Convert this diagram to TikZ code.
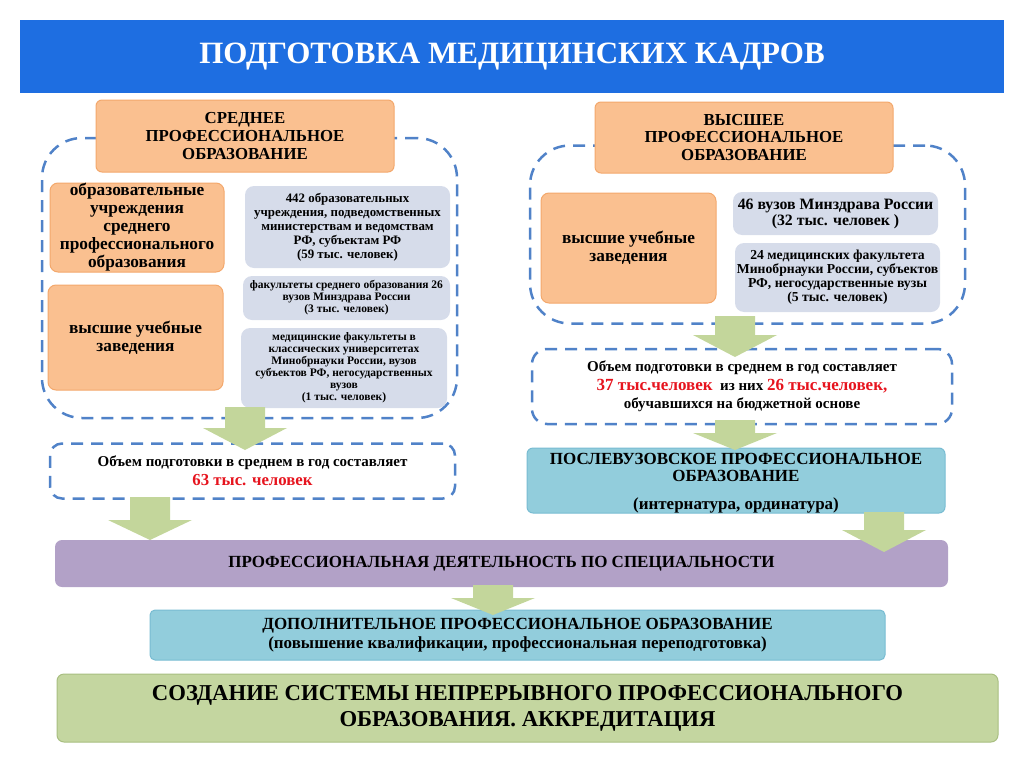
\documentclass[tikz,border=0pt]{standalone}
\usepackage{fontspec}
\setmainfont{Liberation Serif}
\usetikzlibrary{positioning}

\definecolor{titleblue}{RGB}{30,110,225}
\definecolor{orangefill}{RGB}{250,192,144}
\definecolor{orangeline}{RGB}{243,168,108}
\definecolor{grayfill}{RGB}{214,220,234}
\definecolor{frameblue}{RGB}{80,130,200}
\definecolor{arrowgreen}{RGB}{195,214,155}
\definecolor{purplefill}{RGB}{178,161,199}
\definecolor{cyanfill}{RGB}{146,205,220}
\definecolor{cyanline}{RGB}{120,188,210}
\definecolor{greenfill}{RGB}{196,214,160}
\definecolor{greenline}{RGB}{168,190,128}
\definecolor{redtext}{RGB}{230,20,30}

% block arrow: centre x, top, neck, tip
\newcommand{\greenarrow}[4]{%
  \fill[arrowgreen] (#1-20,#2) -- (#1+20,#2) -- (#1+20,#3) -- (#1+42,#3)
    -- (#1,#4) -- (#1-42,#3) -- (#1-20,#3) -- cycle;}

\begin{document}
\begin{tikzpicture}[x=1pt, y=-1pt,
        box/.style={align=center, inner sep=0pt, outer sep=0pt},
        headbox/.style={box, draw=orangeline, line width=1pt, fill=orangefill, rounded corners=6pt, minimum width=298pt, minimum height=72pt, font=\bfseries\fontsize{16.8}{17.8}\selectfont},
        orangebox/.style={box, draw=orangeline, line width=1pt, fill=orangefill, rounded corners=8pt, minimum width=175pt, font=\bfseries\fontsize{17.3}{18}\selectfont},
        graybox/.style={box, fill=grayfill, rounded corners=9pt, minimum width=206pt},
        frame/.style={box, draw=frameblue, line width=2.5pt, dash pattern=on 12pt off 8pt},
        wide/.style={box, line width=1pt, font=\bfseries\fontsize{17}{19}\selectfont}]

    \useasboundingbox (0,0) rectangle (1024,768);

    % title
    \node [box, fill=titleblue, minimum width=984pt, minimum height=73pt, text=white, font=\bfseries\fontsize{31}{34}\selectfont] (title) at (512,56.5) {ПОДГОТОВКА МЕДИЦИНСКИХ КАДРОВ};

    % dashed frames
    \node [frame, rounded corners=40pt, minimum width=415pt, minimum height=280pt] (spoframe) at (249.5,278) {};
    \node [frame, rounded corners=40pt, minimum width=435pt, minimum height=178pt] (voframe) at (747.5,234.5) {};

    % left part
    \node [headbox] (spohead) at (245,136) {СРЕДНЕЕ\\ПРОФЕССИОНАЛЬНОЕ\\ОБРАЗОВАНИЕ};
    \node [orangebox, minimum width=174pt, minimum height=89pt] (spoorg) at (137,227.5) {образовательные\\учреждения\\среднего\\профессионального\\образования};
    \node [orangebox, minimum height=105pt] (spovuz) at (135.5,337.5) {высшие учебные\\заведения};
    \node [graybox, minimum width=205pt, minimum height=82pt, font=\bfseries\fontsize{12.9}{14}\selectfont] (spog1) at (347.5,227) {442 образовательных\\учреждения, подведомственных\\министерствам и ведомствам\\РФ, субъектам РФ\\(59 тыс. человек)};
    \node [graybox, minimum width=207pt, minimum height=44pt, font=\bfseries\fontsize{11.5}{12}\selectfont] (spog2) at (346.5,298) {факультеты среднего образования 26\\вузов Минздрава России\\(3 тыс. человек)};
    \node [graybox, minimum height=80pt, font=\bfseries\fontsize{11.5}{12}\selectfont] (spog3) at (344,368) {медицинские факультеты в\\классических университетах\\Минобрнауки России, вузов\\субъектов РФ, негосударственных\\вузов\\(1 тыс. человек)};
    \node [frame, rounded corners=12pt, minimum width=405pt, minimum height=55pt, font=\bfseries\fontsize{15}{19}\selectfont] (spovol) at (252.5,471) {Объем подготовки в среднем в год составляет\\{\color{redtext}\fontsize{16.8}{19}\selectfont 63 тыс. человек}};

    % right part
    \node [headbox, minimum height=71pt] (vohead) at (744,137.5) {ВЫСШЕЕ\\ПРОФЕССИОНАЛЬНОЕ\\ОБРАЗОВАНИЕ};
    \node [orangebox, minimum height=110pt] (vovuz) at (628.5,248) {высшие учебные\\заведения};
    \node [graybox, minimum width=205pt, minimum height=43pt, font=\bfseries\fontsize{15.8}{16}\selectfont] (vog1) at (835.5,213.5) {46 вузов Минздрава России\\(32 тыс. человек )};
    \node [graybox, minimum width=205pt, minimum height=69pt, font=\bfseries\fontsize{13.7}{14}\selectfont] (vog2) at (837.5,277.5) {24 медицинских факультета\\Минобрнауки России, субъектов\\РФ, негосударственные вузы\\(5 тыс. человек)};
    \node [frame, rounded corners=15pt, minimum width=420pt, minimum height=75pt, font=\bfseries\fontsize{15}{18.5}\selectfont] (vovol) at (742,386.5) {Объем подготовки в среднем в год составляет\\{\color{redtext}\fontsize{17}{18.5}\selectfont 37 тыс.человек}\ \ из них {\color{redtext}\fontsize{17}{18.5}\selectfont 26 тыс.человек,}\\обучавшихся на бюджетной основе};
    \node [wide, draw=cyanline, fill=cyanfill, rounded corners=6pt, minimum width=418pt, minimum height=65pt] (post) at (736,480.5) {};
    \node [box, font=\bfseries\fontsize{17}{17}\selectfont] (posttext) at (736,483) {ПОСЛЕВУЗОВСКОЕ ПРОФЕССИОНАЛЬНОЕ\\ОБРАЗОВАНИЕ\\[11pt](интернатура, ординатура)};

    % lower part
    \node [wide, fill=purplefill, rounded corners=7pt, minimum width=893pt, minimum height=47pt] (prof) at (501.5,563.5) {ПРОФЕССИОНАЛЬНАЯ ДЕЯТЕЛЬНОСТЬ ПО СПЕЦИАЛЬНОСТИ};
    \node [wide, draw=cyanline, fill=cyanfill, rounded corners=5pt, minimum width=735pt, minimum height=50pt] (dpo) at (517.5,635) {ДОПОЛНИТЕЛЬНОЕ ПРОФЕССИОНАЛЬНОЕ ОБРАЗОВАНИЕ\\(повышение квалификации, профессиональная переподготовка)};
    \node [wide, draw=greenline, fill=greenfill, rounded corners=7pt, minimum width=941pt, minimum height=68pt, font=\bfseries\fontsize{22.7}{26}\selectfont] (final) at (527.5,708) {СОЗДАНИЕ СИСТЕМЫ НЕПРЕРЫВНОГО ПРОФЕССИОНАЛЬНОГО\\ОБРАЗОВАНИЯ. АККРЕДИТАЦИЯ};

    % arrows
    \greenarrow{245}{407}{428}{450}
    \greenarrow{150}{497}{520}{540}
    \greenarrow{735}{316}{335}{357}
    \greenarrow{735}{420}{433}{450}
    \greenarrow{884}{512}{530}{552}
    \greenarrow{493}{585}{598}{615}
\end{tikzpicture}
\end{document}
